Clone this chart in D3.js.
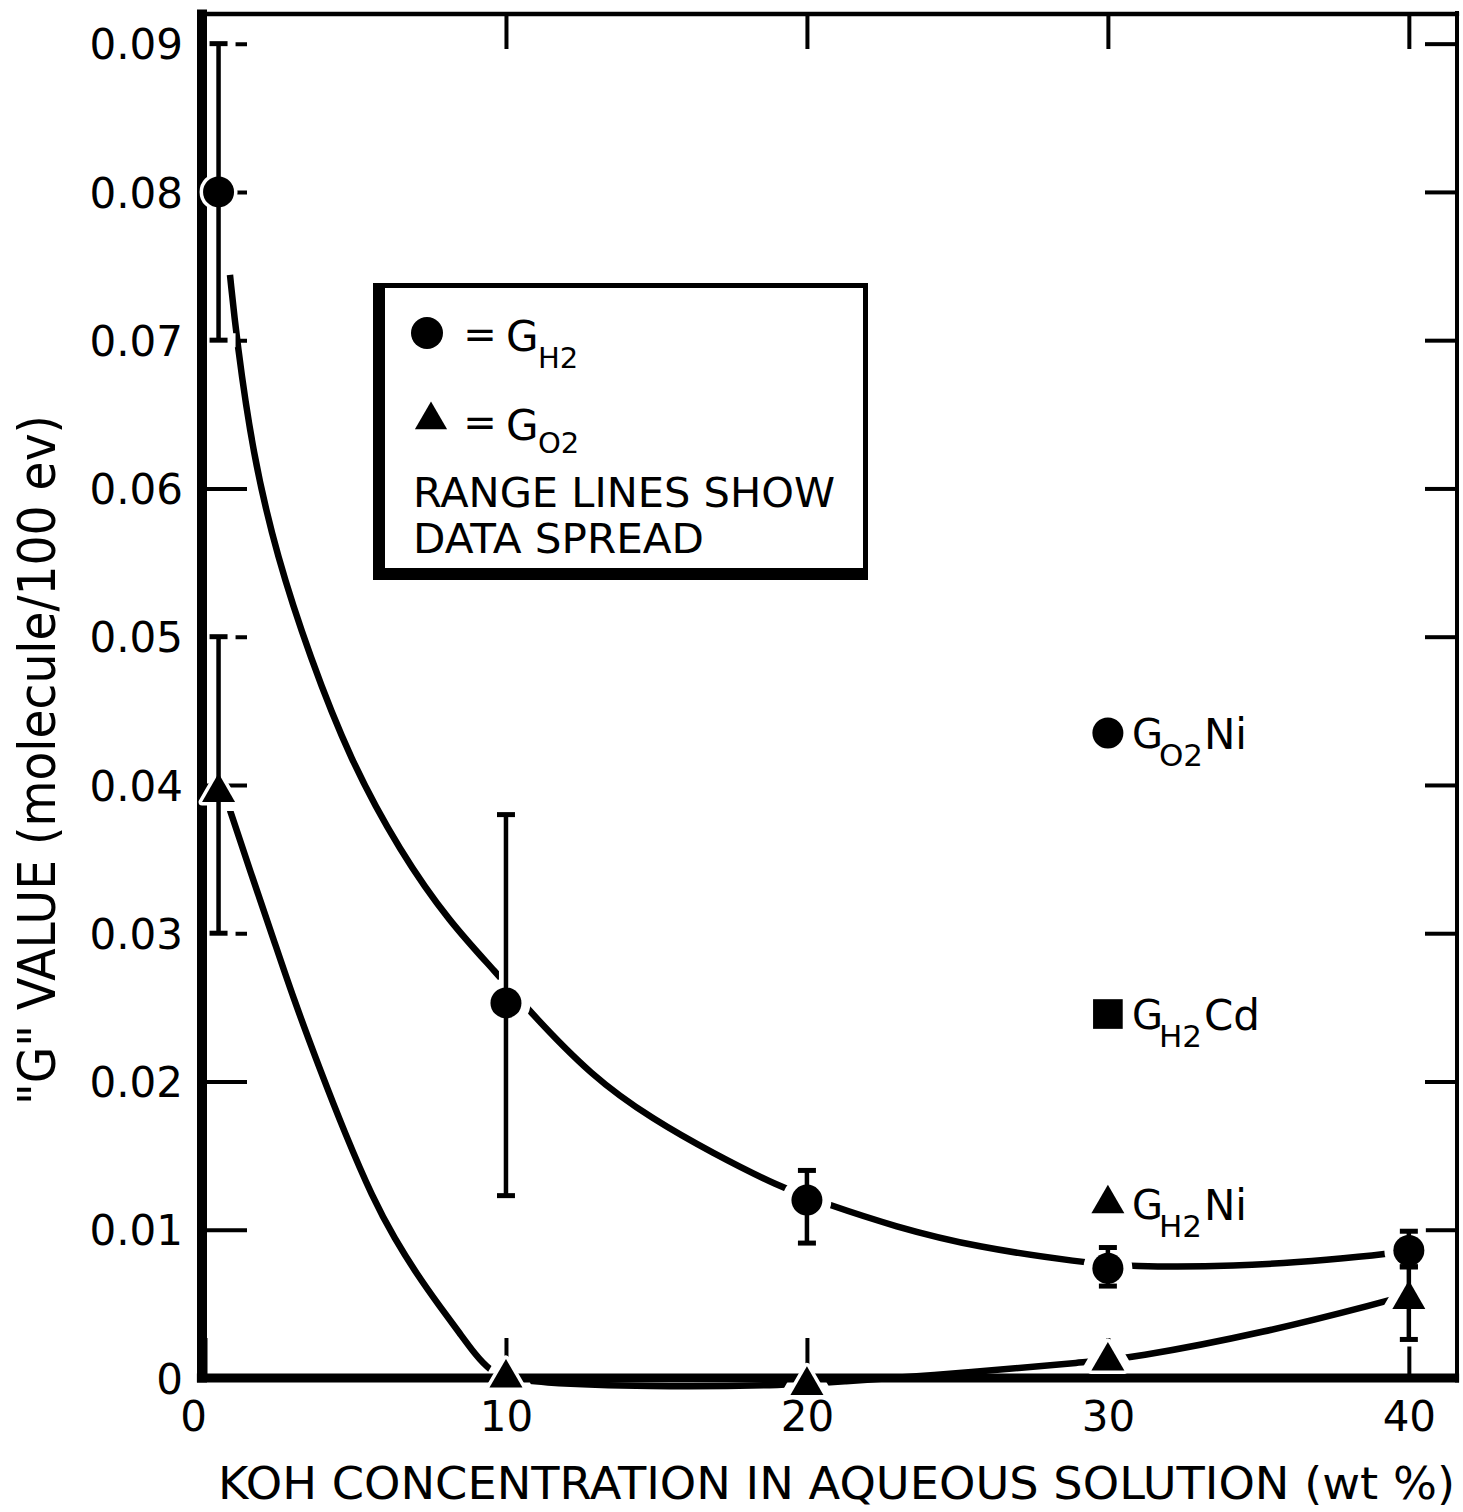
<!DOCTYPE html>
<html><head><meta charset="utf-8">
<script src="https://cdn.jsdelivr.net/npm/d3@7"></script>
<style>body{margin:0;background:#fff}svg{display:block}</style>
</head><body>
<svg id="chart" width="1463" height="1512"></svg>
<script>
// ---------- data ----------
const xTicks = [0, 10, 20, 30, 40];
const yTicks = [0, 0.01, 0.02, 0.03, 0.04, 0.05, 0.06, 0.07, 0.08, 0.09];

// G(H2) measured points (circles) with range lines
const h2X  = [0.45, 10, 20, 30, 40];
const h2Y  = [0.0800, 0.0253, 0.0120, 0.0074, 0.0086];
const h2Lo = [0.0700, 0.0123, 0.0091, 0.0062, 0.0075];
const h2Hi = [0.0900, 0.0380, 0.0140, 0.0088, 0.0099];

// G(O2) measured points (triangles) with range lines
const o2X  = [0.45, 10, 20, 30, 40];
const o2Y  = [0.0395, 0.0000, -0.0005, 0.00115, 0.0053];
const o2Lo = [0.0300, null, null, null, 0.0026];
const o2Hi = [0.0500, null, null, null, 0.0075];

// hand-drawn fitted curves
const h2CurveX = [0.83, 1.06, 1.59, 2.39, 3.49, 4.82, 6.48, 8.14, 9.70, 10.66, 12.86, 14.92, 16.84, 19.07, 20.56, 22.92, 25.68, 29.14, 30.7, 34.2, 37.5, 39.4, 40.0];
const h2CurveY = [0.0744, 0.0699, 0.0623, 0.0554, 0.0486, 0.0417, 0.0355, 0.0307, 0.0273, 0.0250, 0.0203, 0.0174, 0.0152, 0.0129, 0.0118, 0.0102, 0.0088, 0.0078, 0.0075, 0.0075, 0.0080, 0.0084, 0.0086];
const o2CurveX = [0.83, 1.50, 2.26, 2.92, 3.82, 4.65, 5.58, 6.30, 7.04, 7.81, 8.47, 8.97, 9.47, 10.0, 10.93, 14.65, 19.3, 20.7, 25.7, 29.3, 30.7, 35.3, 39.1, 40.0];
const o2CurveY = [0.0383, 0.0342, 0.0297, 0.0257, 0.0208, 0.0165, 0.0121, 0.0094, 0.0070, 0.0048, 0.0030, 0.0016, 0.0005, 0.0000, -0.0003, -0.0006, -0.0005, -0.0003, 0.0004, 0.0011, 0.0013, 0.0031, 0.0051, 0.0056];

// single points at 30 wt% with labels
const extraX = [30, 30, 30];
const extraY = [0.0435, 0.02455, 0.01175];
const extraSymbol = ["circle", "square", "triangle"];
const extraSub = ["O2", "H2", "H2"];
const extraTail = ["Ni", "Cd", "Ni"];

const xTitle = "KOH CONCENTRATION IN AQUEOUS SOLUTION (wt %)";
const yTitle = "\"G\" VALUE (molecule/100 ev)";
const legendNote = ["RANGE LINES SHOW", "DATA SPREAD"];

// ---------- drawing ----------
const FONT = "'DejaVu Sans', 'Liberation Sans', sans-serif";
const svg = d3.select("#chart");
svg.append("rect").attr("width", 1463).attr("height", 1512).attr("fill", "#fff");

const x = d3.scaleLinear().domain([-0.1, 41.6]).range([202, 1457]);
const y = d3.scaleLinear().domain([0, 0.092]).range([1378, 14]);

const symType = {circle: d3.symbolCircle, square: d3.symbolSquare, triangle: d3.symbolTriangle};
const symSize = {circle: 755, square: 880, triangle: 472};
const sym = t => d3.symbol(symType[t], symSize[t])();

const h2Pts = h2X.map((v, i) => ({x: v, y: h2Y[i], lo: h2Lo[i], hi: h2Hi[i], t: "circle"}));
const o2Pts = o2X.map((v, i) => ({x: v, y: o2Y[i], lo: o2Lo[i], hi: o2Hi[i], t: "triangle"}));
const exPts = extraX.map((v, i) => ({x: v, y: extraY[i], t: extraSymbol[i], sub: extraSub[i], tail: extraTail[i]}));
const allPts = h2Pts.concat(o2Pts, exPts);
const errPts = h2Pts.concat(o2Pts).filter(d => d.lo != null);

// 1. curves
const line = d3.line().x(d => x(d[0])).y(d => y(d[1])).curve(d3.curveBasis);
svg.append("path").datum(h2CurveX.map((v, i) => [v, h2CurveY[i]]))
  .attr("d", line).attr("fill", "none").attr("stroke", "#000").attr("stroke-width", 6.5);
svg.append("path").datum(o2CurveX.map((v, i) => [v, o2CurveY[i]]))
  .attr("d", line).attr("fill", "none").attr("stroke", "#000").attr("stroke-width", 6.5);

// 2. wide white halos around markers (gaps in curves)
svg.append("g").selectAll("path").data(allPts).join("path")
  .attr("transform", d => `translate(${x(d.x)},${y(d.y)})`)
  .attr("d", d => sym(d.t)).attr("fill", "#fff").attr("stroke", "#fff")
  .attr("stroke-width", 18).attr("stroke-linejoin", "round");

// 3. axes ticks
const fmt = d => d === 0 ? "0" : d3.format(".2f")(d);
const gL = svg.append("g").attr("transform", `translate(${x(-0.1)},0)`)
  .call(d3.axisLeft(y).tickValues(yTicks).tickSizeInner(-45).tickSizeOuter(0).tickPadding(19).tickFormat(fmt));
const gB = svg.append("g").attr("transform", `translate(0,${y(0)})`)
  .call(d3.axisBottom(x).tickValues(xTicks).tickSizeInner(-40).tickSizeOuter(0).tickPadding(23));
const gT = svg.append("g").attr("transform", `translate(0,${y(0.092)})`)
  .call(d3.axisTop(x).tickValues(xTicks.slice(1)).tickSizeInner(-35).tickSizeOuter(0).tickFormat(""));
const gR = svg.append("g").attr("transform", `translate(${x(41.6)},0)`)
  .call(d3.axisRight(y).tickValues(yTicks.slice(1)).tickSizeInner(-32).tickSizeOuter(0).tickFormat(""));
[gL, gB, gT, gR].forEach(g => {
  g.select(".domain").remove();
  g.attr("font-family", FONT).attr("font-size", 42);
  g.selectAll("line").attr("stroke", "#000").attr("stroke-width", 4);
  g.selectAll("text").attr("fill", "#000");
});
gL.selectAll("text").attr("dy", "0.36em");
gB.selectAll("text").filter(d => d === 0).attr("dx", -12);

// 4. white halos around range lines
const capW = 18;
const eh = svg.append("g");
errPts.forEach(d => {
  eh.append("line").attr("x1", x(d.x)).attr("x2", x(d.x)).attr("y1", y(d.hi)).attr("y2", y(d.lo))
    .attr("stroke", "#fff").attr("stroke-width", 14);
  [d.lo, d.hi].forEach(v => eh.append("line")
    .attr("x1", x(d.x) - capW / 2 - 8).attr("x2", x(d.x) + capW / 2 + 8)
    .attr("y1", y(v)).attr("y2", y(v)).attr("stroke", "#fff").attr("stroke-width", 14));
});

// 5. frame
const fr = svg.append("g").attr("stroke", "#000");
fr.append("line").attr("x1", x(-0.1)).attr("x2", x(-0.1)).attr("y1", y(0.0923)).attr("y2", y(-0.0003)).attr("stroke-width", 10);
fr.append("line").attr("x1", x(-0.27)).attr("x2", x(41.67)).attr("y1", y(0)).attr("y2", y(0)).attr("stroke-width", 9);
fr.append("line").attr("x1", x(-0.1)).attr("x2", x(41.67)).attr("y1", y(0.092)).attr("y2", y(0.092)).attr("stroke-width", 4.5);
fr.append("line").attr("x1", x(41.6)).attr("x2", x(41.6)).attr("y1", y(0.0922)).attr("y2", y(-0.0003)).attr("stroke-width", 4);

// 6. small halos
svg.append("g").selectAll("path").data(allPts).join("path")
  .attr("transform", d => `translate(${x(d.x)},${y(d.y)})`)
  .attr("d", d => sym(d.t)).attr("fill", "#fff").attr("stroke", "#fff")
  .attr("stroke-width", 7).attr("stroke-linejoin", "round");

// 7. range lines
const eb = svg.append("g").attr("stroke", "#000");
errPts.forEach(d => {
  eb.append("line").attr("x1", x(d.x)).attr("x2", x(d.x)).attr("y1", y(d.hi)).attr("y2", y(d.lo)).attr("stroke-width", 4.5);
  [d.lo, d.hi].forEach(v => eb.append("line")
    .attr("x1", x(d.x) - capW / 2).attr("x2", x(d.x) + capW / 2)
    .attr("y1", y(v)).attr("y2", y(v)).attr("stroke-width", 5));
});

// 8. markers
svg.append("g").selectAll("path").data(allPts).join("path")
  .attr("transform", d => `translate(${x(d.x)},${y(d.y)})`)
  .attr("d", d => sym(d.t)).attr("fill", "#000");

// labels for the single points
exPts.forEach(d => {
  const cx = x(d.x), cy = y(d.y);
  const t = svg.append("text").attr("font-family", FONT).attr("fill", "#000");
  t.append("tspan").attr("x", cx + 24).attr("y", cy + 15).attr("font-size", 40).text("G");
  t.append("tspan").attr("x", cx + 51).attr("y", cy + 33).attr("font-size", 31).text(d.sub);
  t.append("tspan").attr("x", cx + 96).attr("y", cy + 16).attr("font-size", 42).text(d.tail);
});

// legend
const lg = svg.append("g");
lg.append("rect").attr("x", 375.5).attr("y", 285.5).attr("width", 490).attr("height", 292)
  .attr("fill", "#fff").attr("stroke", "#000").attr("stroke-width", 5);
lg.append("rect").attr("x", 373).attr("y", 283).attr("width", 12).attr("height", 297).attr("fill", "#000");
lg.append("rect").attr("x", 373).attr("y", 568).attr("width", 495).attr("height", 12).attr("fill", "#000");
lg.append("path").attr("transform", "translate(427,333)").attr("d", d3.symbol(d3.symbolCircle, 804)()).attr("fill", "#000");
lg.append("path").attr("transform", "translate(431,420)").attr("d", d3.symbol(d3.symbolTriangle, 450)()).attr("fill", "#000");
const lt = lg.append("g").attr("font-family", FONT).attr("fill", "#000");
lt.append("text").attr("x", 480).attr("y", 348).attr("font-size", 40).attr("text-anchor", "middle").text("=");
lt.append("text").attr("x", 480).attr("y", 436).attr("font-size", 40).attr("text-anchor", "middle").text("=");
const g1 = lt.append("text");
g1.append("tspan").attr("x", 506).attr("y", 351).attr("font-size", 42).text("G");
g1.append("tspan").attr("x", 538).attr("y", 368).attr("font-size", 29).text("H2");
const g2 = lt.append("text");
g2.append("tspan").attr("x", 506).attr("y", 440).attr("font-size", 42).text("G");
g2.append("tspan").attr("x", 538).attr("y", 453).attr("font-size", 29).text("O2");
lt.append("text").attr("x", 413).attr("y", 507).attr("font-size", 40).attr("textLength", 422).attr("lengthAdjust", "spacingAndGlyphs").text(legendNote[0]);
lt.append("text").attr("x", 413).attr("y", 553).attr("font-size", 40).attr("textLength", 291).attr("lengthAdjust", "spacingAndGlyphs").text(legendNote[1]);

// axis titles
svg.append("text").attr("x", 218).attr("y", 1499).attr("font-family", FONT).attr("font-size", 44)
  .attr("textLength", 1237).attr("lengthAdjust", "spacingAndGlyphs").attr("fill", "#000").text(xTitle);
svg.append("text").attr("transform", "translate(55,760) rotate(-90)").attr("text-anchor", "middle")
  .attr("font-family", FONT).attr("font-size", 52).attr("textLength", 690).attr("lengthAdjust", "spacingAndGlyphs")
  .attr("fill", "#000").text(yTitle);
</script>
</body></html>
